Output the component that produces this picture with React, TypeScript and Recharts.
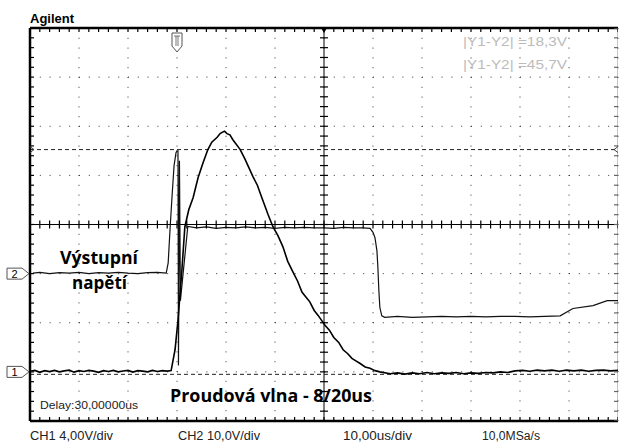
import React from 'react';
import { LineChart, Line, XAxis, YAxis, CartesianGrid, ReferenceLine, ReferenceDot } from 'recharts';

// ---- screen / graticule description (10 us/div, trigger at 0, delay 30 us) ----
const timeTicks = [-30, -20, -10, 0, 10, 20, 30, 40, 50, 60, 70, 80, 90];
const divTicks = [-4, -3, -2, -1, 0, 1, 2, 3, 4];
const centreTime = 30;

// ---- CH1 : current wave (4 V/div, ground 3 div below centre) ----
const ch1Time = [
  -30, -29, -28, -27, -26, -25, -24, -23, -22, -21, -20, -19, -18, -17, -16, -15, -14, -13, -12, -11,
  -10, -9, -8, -7, -6, -5, -4, -3, -2,
  -1.2, -0.4, 0.2, 1.0, 1.6, 2.4, 3.3, 4.3, 5.3, 6.3, 7.1, 8.2, 8.8, 9.2, 9.7, 10.2, 10.8, 11.4,
  12.9, 13.9, 15.5, 16.4, 17.3, 18.6, 19.6, 20.6, 21.6, 22.6, 23.7, 24.6, 25.5, 26.3, 27.1, 28.0, 28.8,
  30.2, 31.1, 32.0, 33.0, 33.9, 34.8, 35.7, 36.5, 37.3, 38.4, 39.4, 40.4, 41.4, 43.5,
  45, 46.5, 48, 49.5, 51, 52.5, 54, 55.5, 57, 58.5, 60, 61.5, 63, 64.5, 66, 67.5, 69, 70.5, 72, 73.5,
  75, 76.5, 78, 79.5, 81, 82.5, 84, 85.5, 87, 88.5, 90,
];
const ch1Volts = [
  0.05, 0.12, -0.04, 0.1, 0.02, 0.12, 0.0, 0.08, 0.14, -0.02, 0.1, 0.03, 0.12, 0.06, -0.04, 0.1, 0.03, 0.12, 0.0, 0.07,
  0.12, -0.02, 0.1, 0.06, 0.0, 0.12, 0.03, 0.1, 0.06,
  0.1, 1.8, 4.2, 8.3, 11.8, 13.2, 14.2, 15.8, 17.0, 18.1, 18.7, 19.1, 19.4, 19.5, 19.6, 19.4, 19.3, 18.9,
  18.1, 17.3, 15.9, 15.2, 14.2, 12.8, 11.8, 11.1, 10.2, 9.0, 8.1, 7.4, 6.5, 6.1, 5.7, 5.0, 4.6,
  3.8, 3.4, 2.8, 2.4, 1.8, 1.5, 1.1, 0.9, 0.7, 0.4, 0.3, 0.1, 0.0, -0.15,
  -0.08, -0.18, -0.08, -0.15, -0.05, -0.15, -0.08, -0.12, -0.05, -0.15, -0.08, -0.12, -0.05, -0.08, 0.0, -0.05, 0.08, 0.12, 0.05, 0.14,
  0.08, 0.14, 0.05, 0.14, 0.08, 0.14, 0.05, 0.12, 0.14, 0.08, 0.12,
];

// ---- CH2 : output voltage (10 V/div, ground 1 div below centre) ----
const ch2Time = [
  -29.4, -28, -26, -24, -22, -20, -18, -16, -14, -12, -10, -8, -6, -4, -2.2,
  -1.8, -1.4, -1.0, -0.6, -0.2, 0.0, 0.2, 0.3, 0.5, 0.7, 2.2,
  4, 6, 8, 10, 12, 14, 16, 18, 20, 22, 24, 26, 28, 30, 32, 34, 36, 38, 39.4,
  40.0, 40.4, 40.8, 41.0, 41.2, 41.4, 41.8, 42.4,
  45, 48, 51, 54, 57, 60, 63, 66, 69, 72, 75, 78.2, 80.8, 84.9, 87.8, 90,
];
const ch2Volts = [
  0.1, 0.25, 0.0, 0.2, 0.1, 0.25, 0.0, 0.2, 0.1, 0.25, 0.1, 0.0, 0.2, 0.25, 0.1,
  2.2, 9.4, 15.9, 22.0, 24.6, 25.0, 25.0, -18.7, 23.0, -5.5, 9.6,
  9.3, 9.5, 9.2, 9.4, 9.3, 9.5, 9.3, 9.4, 9.2, 9.4, 9.3, 9.4, 9.3, 9.3, 9.2, 9.4, 9.3, 9.3, 9.2,
  8.4, 7.3, 4.7, 1.2, -3.5, -6.9, -8.6, -8.9,
  -8.7, -8.9, -8.8, -8.7, -8.8, -8.7, -8.8, -8.7, -8.7, -8.8, -8.7, -8.6, -7.1, -6.5, -5.5, -5.5,
];

// cursor levels (CH1 volts): |Y1-Y2| = 18.3 V
const cursorLevels = [18.1, -0.2];

const ch1Data = ch1Time.map((t, i) => ({ t, v: ch1Volts[i] }));
const ch2Data = ch2Time.map((t, i) => ({ t, v: ch2Volts[i] }));

// graticule minor subdivisions (5 per division)
const minorT: number[] = [];
for (let k = 0; k <= 60; k++) minorT.push(-30 + k * 2);
const minorD: number[] = [];
for (let k = 0; k <= 40; k++) minorD.push(-4 + k * 0.2);

const hRow = (d: number) => minorT.map((t) => ({ t, d }));
const vCol = (t: number) => minorD.map((d) => ({ t, d }));
const centreRow = hRow(0);
const topRow = hRow(4);
const bottomRow = hRow(-4);
const centreCol = vCol(centreTime);
const leftCol = vCol(-30);
const rightCol = vCol(90);

const W = 619;
const H = 444;

const tickShape = (x1: number, y1: number, x2: number, y2: number, col = '#000') => (p: any) => {
  const { cx, cy, index } = p;
  return <line key={`k${index}`} x1={cx + x1} y1={cy + y1} x2={cx + x2} y2={cy + y2} stroke={col} strokeWidth={1.2} />;
};
const vTickCentre = tickShape(0, -4, 0, 4);
const hTickCentre = tickShape(-4, 0, 4, 0);
const tickDown = tickShape(0, 0, 0, 4);
const tickUp = tickShape(0, 0, 0, -4);
const tickRight = tickShape(0, 0, 4, 0);
const tickLeft = tickShape(0, 0, -4, 0, '#666');

const chBox = (label: string) => (p: any) => {
  const { cx, cy } = p;
  return (
    <g>
      <polygon
        points={`${cx - 23},${cy - 5.5} ${cx - 8},${cy - 5.5} ${cx - 1},${cy} ${cx - 8},${cy + 5.5} ${cx - 23},${cy + 5.5}`}
        fill="#fff"
        stroke="#555"
        strokeWidth={1}
      />
      <text x={cx - 15.5} y={cy + 4.5} textAnchor="middle" fontSize={11} fontFamily="Liberation Sans, Arial" fill="#000">
        {label}
      </text>
    </g>
  );
};

const trigShape = (p: any) => {
  const { cx, cy } = p;
  return (
    <g>
      <polygon
        points={`${cx - 5},${cy + 5} ${cx + 5},${cy + 5} ${cx + 5},${cy + 18} ${cx},${cy + 24} ${cx - 5},${cy + 18}`}
        fill="#fff"
        stroke="#555"
        strokeWidth={1}
      />
      <path d={`M${cx - 3},${cy + 8} H${cx + 3} M${cx - 1},${cy + 8} V${cy + 18} M${cx + 1},${cy + 8} V${cy + 18}`} stroke="#555" strokeWidth={0.8} fill="none" />
    </g>
  );
};

const centreMark = (p: any) => {
  const { cx, cy } = p;
  return <polygon points={`${cx - 3},${cy} ${cx + 3},${cy} ${cx},${cy + 5}`} fill="#000" />;
};

const leftArrow = (p: any) => {
  const { cx, cy } = p;
  return <polyline points={`${cx},${cy - 3} ${cx + 4},${cy} ${cx},${cy + 3}`} fill="none" stroke="#444" strokeWidth={1} />;
};
const rightArrow = (p: any) => {
  const { cx, cy } = p;
  return <polyline points={`${cx},${cy - 3} ${cx - 4},${cy} ${cx},${cy + 3}`} fill="none" stroke="#444" strokeWidth={1} />;
};

export default function App() {
  const font = 'Liberation Sans, Arial, sans-serif';
  const bold = 'Open Sans, Liberation Sans, sans-serif';

  return (
    <div style={{ position: 'absolute', left: 0, top: 0, width: W, height: H, background: '#fff', overflow: 'hidden' }}>
      <LineChart width={W} height={H} margin={{ top: 28, right: 1, bottom: 23, left: 30 }}>
        <XAxis type="number" dataKey="t" domain={[-30, 90]} ticks={timeTicks} hide allowDataOverflow />
        <YAxis yAxisId="div" type="number" domain={[-4, 4]} ticks={divTicks} hide allowDataOverflow />
        <YAxis yAxisId="ch1" type="number" domain={[-4, 28]} hide allowDataOverflow />
        <YAxis yAxisId="ch2" type="number" domain={[-30, 50]} hide allowDataOverflow />
        <CartesianGrid yAxisId="div" stroke="#333" strokeWidth={1} strokeDasharray="1 8.8" />
        {/* cursors */}
        {cursorLevels.map((c, i) => (
          <ReferenceLine key={`cur${i}`} yAxisId="ch1" y={c} stroke="#222" strokeWidth={1} strokeDasharray="4 3" />
        ))}
        {/* frame */}
        <ReferenceLine yAxisId="div" y={4} stroke="#000" strokeWidth={2.5} />
        <ReferenceLine yAxisId="div" y={-4} stroke="#000" strokeWidth={2.5} />
        <ReferenceLine yAxisId="div" x={-30} stroke="#000" strokeWidth={2.5} />
        {/* centre axes and graticule ticks (drawn as series along the graticule lines) */}
        <Line data={centreRow} dataKey="d" yAxisId="div" stroke="#000" strokeWidth={1} dot={vTickCentre} isAnimationActive={false} />
        <Line data={centreCol} dataKey="d" yAxisId="div" stroke="#000" strokeWidth={1} dot={hTickCentre} isAnimationActive={false} />
        <Line data={topRow} dataKey="d" yAxisId="div" stroke="#000" strokeWidth={1} dot={tickDown} isAnimationActive={false} />
        <Line data={bottomRow} dataKey="d" yAxisId="div" stroke="#000" strokeWidth={1} dot={tickUp} isAnimationActive={false} />
        <Line data={leftCol} dataKey="d" yAxisId="div" stroke="#000" strokeWidth={1} dot={tickRight} isAnimationActive={false} />
        <Line data={rightCol} dataKey="d" yAxisId="div" stroke="#888" strokeWidth={1} dot={tickLeft} isAnimationActive={false} />
        <Line data={ch2Data} dataKey="v" yAxisId="ch2" type="linear" stroke="#111" strokeWidth={1.2} dot={false} activeDot={false} isAnimationActive={false} />
        <Line data={ch1Data} dataKey="v" yAxisId="ch1" type="linear" stroke="#000" strokeWidth={1.6} dot={false} activeDot={false} isAnimationActive={false} />
        {/* markers */}
        <ReferenceDot yAxisId="ch2" x={-30} y={0} r={0} ifOverflow="visible" shape={chBox('2')} />
        <ReferenceDot yAxisId="ch1" x={-30} y={0} r={0} ifOverflow="visible" shape={chBox('1')} />
        <ReferenceDot yAxisId="div" x={0} y={4} r={0} ifOverflow="visible" shape={trigShape} />
        <ReferenceDot yAxisId="div" x={centreTime} y={4} r={0} ifOverflow="visible" shape={centreMark} />
        <ReferenceDot yAxisId="ch1" x={-30} y={cursorLevels[0]} r={0} ifOverflow="visible" shape={leftArrow} />
        <ReferenceDot yAxisId="ch1" x={90} y={cursorLevels[0]} r={0} ifOverflow="visible" shape={rightArrow} />
      </LineChart>
      <svg width={W} height={H} style={{ position: 'absolute', left: 0, top: 0, pointerEvents: 'none' }}>
        <text x={30} y={23} fontFamily={font} fontWeight="bold" fontSize={12} textLength={44} lengthAdjust="spacingAndGlyphs">Agilent</text>
        <text x={463} y={46} fontFamily={font} fontSize={12} fill="#bbb" textLength={104} lengthAdjust="spacingAndGlyphs">|Y1-Y2|  =18,3V</text>
        <text x={463} y={69} fontFamily={font} fontSize={12} fill="#bbb" textLength={104} lengthAdjust="spacingAndGlyphs">|Y1-Y2|  =45,7V</text>
        <text x={60} y={264} fontFamily={bold} fontWeight="bold" fontSize={17} textLength={78} lengthAdjust="spacingAndGlyphs">Výstupní</text>
        <text x={72} y={289} fontFamily={bold} fontWeight="bold" fontSize={17} textLength={55} lengthAdjust="spacingAndGlyphs">napětí</text>
        <text x={170} y={402} fontFamily={bold} fontWeight="bold" fontSize={17} textLength={202} lengthAdjust="spacingAndGlyphs">Proudová vlna - 8/20us</text>
        <text x={40} y={409} fontFamily={font} fontSize={11} fill="#222" textLength={98} lengthAdjust="spacingAndGlyphs">Delay:30,00000us</text>
        <text x={30} y={440} fontFamily={font} fontSize={12} fill="#222" textLength={83} lengthAdjust="spacingAndGlyphs">CH1 4,00V/div</text>
        <text x={178} y={440} fontFamily={font} fontSize={12} fill="#222" textLength={82} lengthAdjust="spacingAndGlyphs">CH2 10,0V/div</text>
        <text x={343} y={440} fontFamily={font} fontSize={12} fill="#222" textLength={69} lengthAdjust="spacingAndGlyphs">10,00us/div</text>
        <text x={482} y={440} fontFamily={font} fontSize={12} fill="#222" textLength={58} lengthAdjust="spacingAndGlyphs">10,0MSa/s</text>
      </svg>
    </div>
  );
}
